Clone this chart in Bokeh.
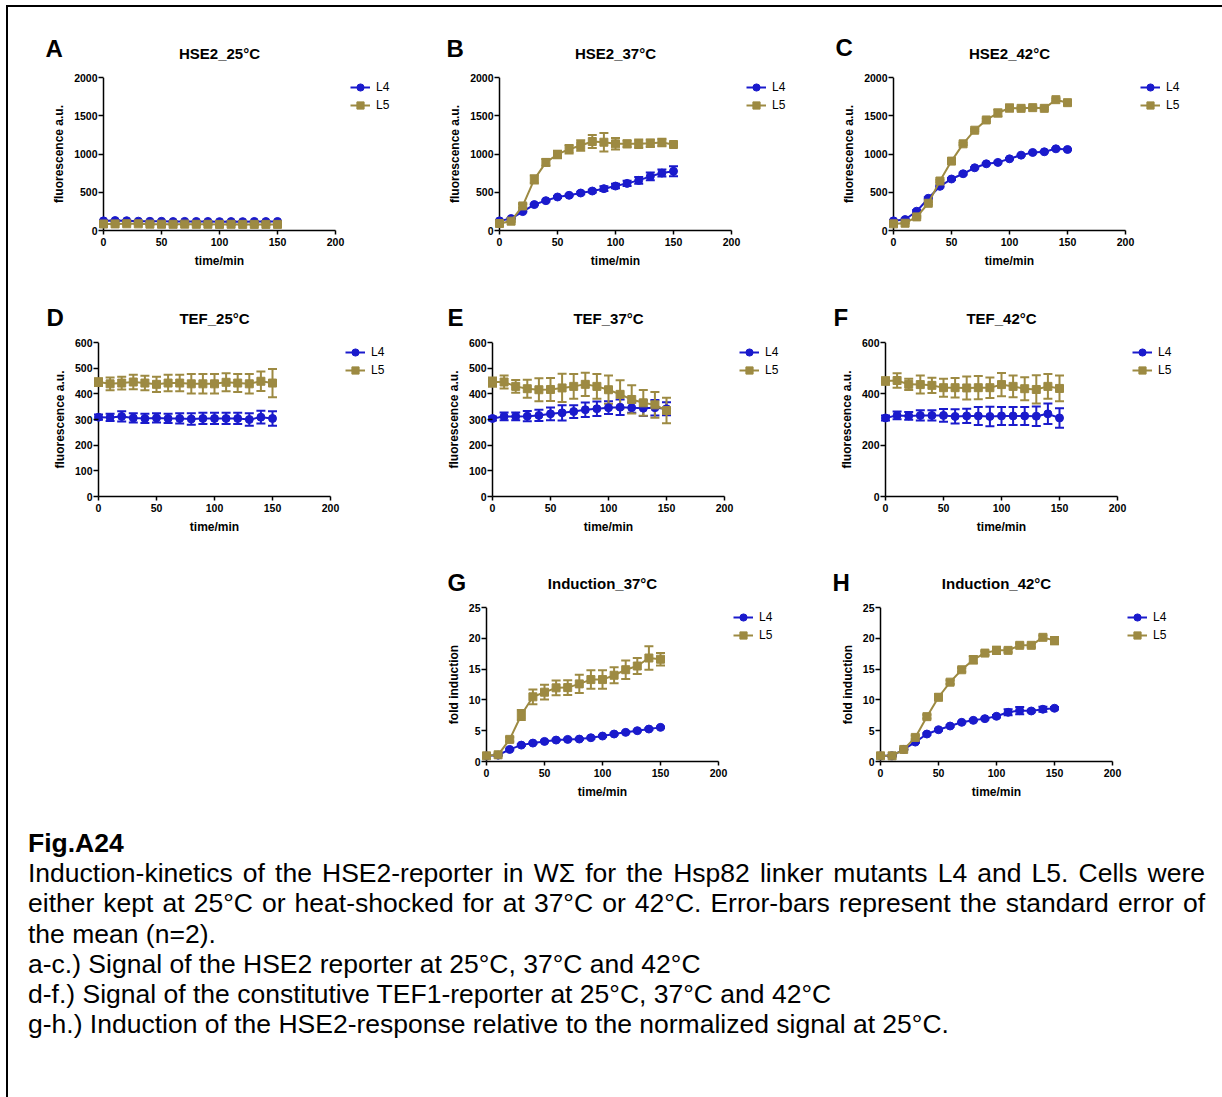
from bokeh.plotting import figure
from bokeh.models import (Range1d, Label, Legend, LegendItem, Whisker, TeeHead,
                          ColumnDataSource, Spacer, Div, FixedTicker, Span)
from bokeh.layouts import row, column
from bokeh.embed import file_html
from bokeh.resources import INLINE

# ---------------- data ----------------
time_min = [0, 10, 20, 30, 40, 50, 60, 70, 80, 90, 100, 110, 120, 130, 140, 150]
x_ticks = [0, 50, 100, 150, 200]
series_names = ["L4", "L5"]

# A  HSE2_25°C
a_l4 = [126, 130, 128, 122, 120, 120, 117, 119, 118, 118, 116, 117, 116, 118, 117, 118]
a_l4_err = [6, 6, 6, 6, 6, 6, 6, 6, 6, 6, 6, 6, 6, 6, 6, 6]
a_l5 = [85, 86, 88, 87, 83, 82, 81, 83, 81, 81, 80, 81, 80, 80, 80, 80]
a_l5_err = [8, 8, 8, 8, 8, 8, 8, 8, 8, 8, 8, 8, 8, 8, 8, 8]
# B  HSE2_37°C
b_l4 = [126, 156, 247, 339, 390, 438, 460, 490, 516, 547, 581, 616, 655, 707, 751, 775]
b_l4_err = [10, 8, 10, 10, 12, 12, 12, 15, 18, 30, 30, 35, 45, 50, 45, 65]
b_l5 = [91, 122, 321, 668, 890, 994, 1063, 1111, 1163, 1154, 1133, 1133, 1133, 1140, 1150, 1124]
b_l5_err = [10, 10, 25, 55, 45, 50, 55, 70, 85, 120, 75, 45, 55, 50, 50, 15]
# C  HSE2_42°C
c_l4 = [126, 143, 252, 421, 577, 673, 742, 820, 872, 890, 937, 985, 1020, 1029, 1068, 1059]
c_l4_err = [10, 10, 15, 15, 12, 12, 12, 10, 10, 12, 10, 10, 10, 10, 10, 10]
c_l5 = [87, 95, 178, 356, 647, 907, 1133, 1311, 1445, 1536, 1601, 1597, 1606, 1597, 1710, 1671]
c_l5_err = [5, 5, 10, 15, 15, 15, 15, 15, 20, 45, 45, 15, 15, 15, 15, 15]
# D  TEF_25°C
d_l4 = [309, 308, 312, 306, 304, 306, 304, 304, 302, 304, 304, 304, 304, 300, 309, 304]
d_l4_err = [10, 14, 20, 18, 18, 18, 18, 20, 22, 22, 22, 22, 22, 24, 25, 28]
d_l5 = [446, 439, 442, 446, 442, 437, 442, 442, 439, 439, 439, 445, 442, 439, 449, 442]
d_l5_err = [15, 25, 25, 28, 28, 30, 32, 32, 38, 38, 38, 35, 35, 38, 38, 55]
# E  TEF_37°C
e_l4 = [304, 312, 312, 313, 316, 322, 326, 331, 338, 342, 346, 348, 346, 344, 346, 342]
e_l4_err = [8, 15, 15, 20, 22, 25, 30, 25, 28, 28, 25, 30, 20, 30, 30, 25]
e_l5 = [446, 446, 429, 420, 416, 417, 423, 429, 437, 429, 416, 398, 378, 365, 357, 335]
e_l5_err = [18, 25, 25, 35, 45, 45, 55, 48, 45, 48, 55, 55, 55, 50, 50, 50]
# F  TEF_42°C
f_l4 = [306, 316, 314, 316, 316, 316, 312, 314, 314, 312, 314, 314, 314, 313, 322, 306]
f_l4_err = [10, 15, 15, 20, 20, 25, 28, 28, 35, 38, 35, 35, 35, 38, 40, 38]
f_l5 = [450, 452, 437, 436, 433, 424, 424, 423, 424, 424, 436, 429, 420, 417, 429, 421]
f_l5_err = [15, 28, 22, 35, 30, 35, 38, 45, 45, 40, 45, 42, 45, 55, 48, 50]
# G  Induction_37°C
g_l4 = [0.92, 1.03, 1.96, 2.66, 2.99, 3.26, 3.48, 3.59, 3.64, 3.86, 4.13, 4.46, 4.73, 5.0, 5.27, 5.54]
g_l4_err = [0.1, 0.1, 0.15, 0.15, 0.15, 0.15, 0.15, 0.15, 0.15, 0.15, 0.15, 0.15, 0.15, 0.15, 0.15, 0.15]
g_l5 = [0.92, 1.09, 3.59, 7.55, 10.5, 11.25, 11.96, 12.0, 12.6, 13.3, 13.3, 14.0, 14.9, 15.5, 16.8, 16.6]
g_l5_err = [0.1, 0.2, 0.35, 0.8, 1.2, 1.2, 1.2, 1.2, 1.5, 1.5, 1.5, 1.3, 1.5, 1.3, 1.9, 1.0]
# H  Induction_42°C
h_l4 = [0.92, 0.92, 1.96, 3.15, 4.46, 5.16, 5.76, 6.36, 6.68, 6.96, 7.34, 7.99, 8.26, 8.2, 8.48, 8.64]
h_l4_err = [0.1, 0.1, 0.1, 0.15, 0.15, 0.15, 0.15, 0.15, 0.15, 0.15, 0.2, 0.5, 0.6, 0.2, 0.4, 0.2]
h_l5 = [0.92, 0.92, 1.96, 3.91, 7.28, 10.43, 12.88, 14.89, 16.52, 17.6, 18.04, 18.04, 18.86, 18.86, 20.16, 19.62]
h_l5_err = [0.1, 0.1, 0.1, 0.3, 0.3, 0.5, 0.3, 0.3, 0.6, 0.3, 0.6, 0.3, 0.3, 0.3, 0.3, 0.6]

hse_ticks = [0, 500, 1000, 1500, 2000]
tef_ticks = [0, 100, 200, 300, 400, 500, 600]
tef42_ticks = [0, 200, 400, 600]
ind_ticks = [0, 5, 10, 15, 20, 25]

caption_title = "Fig.A24"
caption_para = [
    "Induction-kinetics of the HSE2-reporter in W\u03a3 for the Hsp82 linker mutants L4 and L5. Cells were",
    "either kept at 25\u00b0C or heat-shocked for at 37\u00b0C or 42\u00b0C. Error-bars represent the standard error of",
]
caption_lines = [
    "the mean (n=2).",
    "a-c.) Signal of the HSE2 reporter at 25\u00b0C, 37\u00b0C and 42\u00b0C",
    "d-f.) Signal of the constitutive TEF1-reporter at 25\u00b0C, 37\u00b0C and 42\u00b0C",
    "g-h.) Induction of the HSE2-response relative to the normalized signal at 25\u00b0C.",
]

# ---------------- style ----------------
FONT = "Liberation Sans"
BLUE = "#1A1ACC"
OLIVE = "#9D8A42"
PADL = 5          # frame starts this many px left of t=0 so the t=0 markers are whole
FW = 300 + PADL   # frame width (includes legend area)
AXW = 232         # pixels for 0..200 on the x axis


def panel(letter, title, ylabel, yend, yticks, l4, l4e, l5, l5e, fh, top, bottom,
          letter_dx, letter_dy):
    px_x = 200 / AXW          # data units per pixel, x
    px_y = yend / fh          # data units per pixel, y
    p = figure(frame_width=FW, frame_height=fh,
               min_border_left=60 - PADL, min_border_right=10,
               min_border_top=top, min_border_bottom=bottom,
               x_range=Range1d(-PADL * px_x, 300 * px_x), y_range=Range1d(0, yend),
               output_backend="svg", toolbar_location=None)
    p.outline_line_color = None
    p.grid.visible = False
    p.background_fill_color = "white"
    p.border_fill_color = "white"

    # the y axis line sits at t = 0
    p.add_layout(Span(location=0, dimension="height", line_color="black",
                      line_width=1.5, level="underlay"))

    rends = []
    for vals, errs, color, marker in ((l4, l4e, BLUE, "circle"), (l5, l5e, OLIVE, "square")):
        src = ColumnDataSource(dict(
            x=time_min, y=vals,
            upper=[v + e for v, e in zip(vals, errs)],
            lower=[v - e for v, e in zip(vals, errs)]))
        w = Whisker(base="x", upper="upper", lower="lower", source=src,
                    line_color=color, line_width=2,
                    upper_head=TeeHead(size=9, line_color=color, line_width=2),
                    lower_head=TeeHead(size=9, line_color=color, line_width=2))
        p.add_layout(w)
        ln = p.line("x", "y", source=src, line_color=color, line_width=2)
        sc = p.scatter("x", "y", source=src, marker=marker, size=8,
                       fill_color=color, line_color=color)
        rends.append([ln, sc])

    legend = Legend(items=[LegendItem(label=series_names[0], renderers=rends[0]),
                           LegendItem(label=series_names[1], renderers=rends[1])],
                    location=(247 + PADL, fh - 37), glyph_width=20, glyph_height=18,
                    label_height=18, spacing=0, padding=0, margin=0,
                    label_standoff=6, border_line_color=None,
                    background_fill_alpha=0, label_text_font=FONT,
                    label_text_font_size="12px", label_text_color="black")
    p.add_layout(legend)

    for ax in (p.xaxis[0], p.yaxis[0]):
        ax.axis_line_width = 1.5
        ax.axis_line_color = "black"
        ax.major_tick_line_width = 1.5
        ax.major_tick_line_color = "black"
        ax.minor_tick_line_color = None
        ax.major_label_text_font = FONT
        ax.major_label_text_font_size = "10.5px"
        ax.major_label_text_font_style = "bold"
        ax.major_label_text_color = "black"
    xa, ya = p.xaxis[0], p.yaxis[0]
    xa.ticker = FixedTicker(ticks=x_ticks)
    xa.bounds = (0, 200)
    xa.major_tick_out = 4
    xa.major_tick_in = 0
    xa.major_label_standoff = 3
    ya.ticker = FixedTicker(ticks=yticks)
    ya.axis_line_color = None
    ya.major_tick_out = 0
    ya.major_tick_in = PADL
    ya.major_label_standoff = 1
    ya.axis_label = ylabel
    ya.axis_label_text_font = FONT
    ya.axis_label_text_font_size = "12px"
    ya.axis_label_text_font_style = "bold"
    ya.axis_label_text_color = "black"
    ya.axis_label_standoff = 5

    # text outside the frame: labels placed in side panels (not clipped),
    # positioned through the panel's own data scales
    p.add_layout(Label(x=100, y=-30 * px_y, text="time/min",
                       text_align="center", text_baseline="middle", text_font=FONT,
                       text_font_size="12px", text_font_style="bold", text_color="black"),
                 "below")
    p.add_layout(Label(x=100, y=yend + 24 * px_y, text=title,
                       text_align="center", text_baseline="middle", text_font=FONT,
                       text_font_size="15px", text_font_style="bold", text_color="black"),
                 "above")
    p.add_layout(Label(x=letter_dx * px_x, y=yend + letter_dy * px_y,
                       text=letter, text_align="left", text_baseline="middle",
                       text_font=FONT, text_font_size="24px", text_font_style="bold",
                       text_color="black"),
                 "above")
    return p


FL = "fluorescence a.u."
FI = "fold induction"
pA = panel("A", "HSE2_25\u00b0C", FL, 2000, hse_ticks, a_l4, a_l4_err, a_l5, a_l5_err, 153, 70, 50, -58, 29)
pB = panel("B", "HSE2_37\u00b0C", FL, 2000, hse_ticks, b_l4, b_l4_err, b_l5, b_l5_err, 153, 70, 50, -53, 29.5)
pC = panel("C", "HSE2_42\u00b0C", FL, 2000, hse_ticks, c_l4, c_l4_err, c_l5, c_l5_err, 153, 70, 50, -58, 30)
pD = panel("D", "TEF_25\u00b0C", FL, 600, tef_ticks, d_l4, d_l4_err, d_l5, d_l5_err, 154, 62, 49, -52, 25)
pE = panel("E", "TEF_37\u00b0C", FL, 600, tef_ticks, e_l4, e_l4_err, e_l5, e_l5_err, 154, 62, 49, -45, 25)
pF = panel("F", "TEF_42\u00b0C", FL, 600, tef42_ticks, f_l4, f_l4_err, f_l5, f_l5_err, 154, 62, 49, -52, 25)
pG = panel("G", "Induction_37\u00b0C", FI, 25, ind_ticks, g_l4, g_l4_err, g_l5, g_l5_err, 154, 62, 49, -39, 25)
pH = panel("H", "Induction_42\u00b0C", FI, 25, ind_ticks, h_l4, h_l4_err, h_l5, h_l5_err, 154, 62, 49, -48, 25)

row1 = row(Spacer(width=35), pA, Spacer(width=26), pB, Spacer(width=24), pC)
row2 = row(Spacer(width=30), pD, Spacer(width=24), pE, Spacer(width=23), pF)
row3 = row(Spacer(width=418), pG, Spacer(width=24), pH)

blk = "font-family:'Liberation Sans',Arial,sans-serif;font-size:26.5px;line-height:30.2px;color:#000;"
html = f'<div style="{blk}width:1177px">'
html += f'<div style="font-weight:bold">{caption_title}</div>'
for ln in caption_para:
    html += f'<div style="text-align:justify;text-align-last:justify">{ln}</div>'
for ln in caption_lines:
    html += f'<div style="white-space:nowrap">{ln}</div>'
html += '</div>'
cap = Div(text=html, width=1194, height=269, margin=(18, 0, 0, 20))

layout = column(row1, row2, row3, cap, margin=(5, 0, 0, 6),
                styles={"border-top": "2px solid #000", "border-left": "2px solid #000"})

open("out.html", "w").write(file_html(layout, INLINE))
